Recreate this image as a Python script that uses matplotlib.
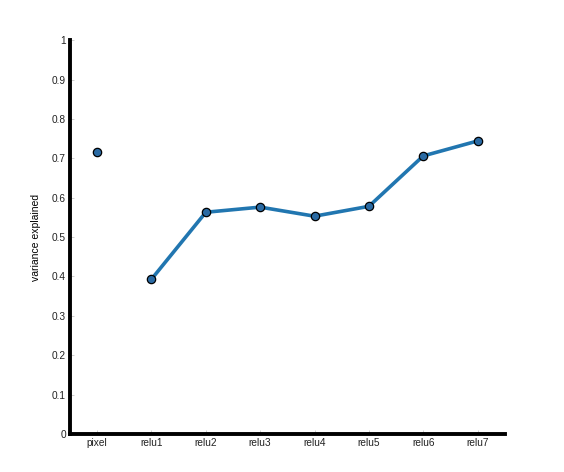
import numpy as np
import matplotlib
matplotlib.use("Agg")
import matplotlib.pyplot as plt

plt.rcParams['font.family'] = ['Liberation Sans', 'DejaVu Sans']

layers = ["pixel", "relu1", "relu2", "relu3", "relu4", "relu5", "relu6", "relu7"]
pixel_value = 0.716
relu_values = [0.393, 0.563, 0.576, 0.553, 0.578, 0.706, 0.744]

x = np.arange(1, len(layers) + 1)

fig = plt.figure(figsize=(5.64, 4.72), dpi=100)
ax = fig.add_axes([0.124, 0.0805, 0.771, 0.8345])

ax.plot(x[1:], relu_values, color="#2176b0", lw=2.6, zorder=2)
ax.plot(x[1:], relu_values, "o", ms=6, mfc="#2a6aa3", mec="black", mew=0.9, zorder=3)
ax.plot([x[0]], [pixel_value], "o", ms=6, mfc="#2a6aa3", mec="black", mew=0.9, zorder=3)

ax.set_xlim(0.5, 8.5)
ax.set_ylim(0, 1)
ax.set_xticks(x)
ax.set_xticklabels(layers)
ax.set_yticks(np.arange(0, 1.01, 0.1))
ax.set_yticklabels(["0", "0.1", "0.2", "0.3", "0.4", "0.5", "0.6", "0.7", "0.8", "0.9", "1"])
ax.tick_params(direction="in", length=3, width=0.5, color="#bbbbbb", labelsize=7.3, pad=3, labelcolor="#222222")
ax.set_ylabel("variance explained", fontsize=7.5, labelpad=8)

for s in ["top", "right"]:
    ax.spines[s].set_visible(False)
for s in ["left", "bottom"]:
    ax.spines[s].set_linewidth(2.8)

fig.savefig("out.png", dpi=100)
